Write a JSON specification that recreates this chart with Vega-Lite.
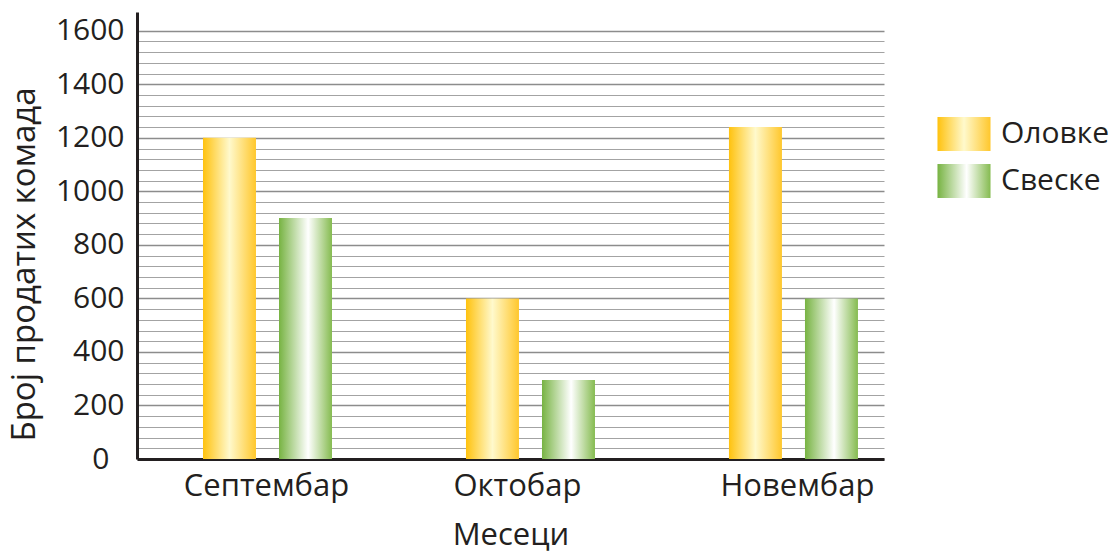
{
  "$schema": "https://vega.github.io/schema/vega-lite/v6.json",
  "autosize": "none",
  "padding": {"left": 137, "top": 12, "right": 231, "bottom": 93},
  "width": 747,
  "height": 447,
  "config": {
    "font": "Open Sans",
    "view": {"stroke": null},
    "axis": {"labelColor": "#231f20", "titleColor": "#231f20", "labelFont": "Open Sans", "titleFont": "Open Sans", "titleFontWeight": "normal"}
  },
  "data": {
    "values": [
      {"month": "Септембар", "series": "Оловке", "value": 1200},
      {"month": "Септембар", "series": "Свеске", "value": 900},
      {"month": "Октобар", "series": "Оловке", "value": 600},
      {"month": "Октобар", "series": "Свеске", "value": 295},
      {"month": "Новембар", "series": "Оловке", "value": 1240},
      {"month": "Новембар", "series": "Свеске", "value": 600}
    ]
  },
  "mark": {"type": "bar", "strokeWidth": 0},
  "encoding": {
    "x": {
      "field": "month",
      "type": "nominal",
      "sort": ["Септембар", "Октобар", "Новембар"],
      "scale": {"paddingInner": 0.5095, "paddingOuter": 0.175, "align": 0.717},
      "axis": {
        "title": "Месеци",
        "labelAngle": 0,
        "labelFontSize": 31,
        "titleFontSize": 31,
        "labelPadding": 12,
        "titlePadding": 19,
        "labelOffset": {"condition": [{"test": "datum.value === 'Октобар'", "value": -13}, {"test": "datum.value === 'Новембар'", "value": 4}], "value": -1},
        "ticks": false,
        "domainColor": "#231f20",
        "domainWidth": 3,
        "grid": false
      }
    },
    "xOffset": {
      "field": "series",
      "type": "nominal",
      "scale": {"paddingInner": 0.303, "paddingOuter": 0}
    },
    "y": {
      "field": "value",
      "type": "quantitative",
      "scale": {"domain": [0, 1670], "nice": false},
      "axis": {
        "title": "Број продатих комада",
        "values": [0,40,80,120,160,200,240,280,320,360,400,440,480,520,560,600,640,680,720,760,800,840,880,920,960,1000,1040,1080,1120,1160,1200,1240,1280,1320,1360,1400,1440,1480,1520,1560,1600],
        "labelExpr": "datum.value % 200 === 0 ? datum.label : ''",
        "format": "d",
        "labelFontSize": 30,
        "titleFontSize": 33,
        "labelPadding": {"condition": {"test": "datum.value === 0", "value": 28}, "value": 13},
        "titlePadding": 14,
        "titleY": 252,
        "ticks": false,
        "domainColor": "#231f20",
        "domainWidth": 3,
        "grid": true,
        "gridColor": {"condition": {"test": "datum.value % 200 === 0", "value": "#8c8c8c"}, "value": "#a3a3a3"},
        "gridWidth": {"condition": {"test": "datum.value % 200 === 0", "value": 1.6}, "value": 1.2},
        "gridOpacity": 1
      }
    },
    "fill": {
      "condition": {
        "test": "datum.series === 'Оловке'",
        "value": {"gradient": "linear", "x1": 0, "y1": 0, "x2": 1, "y2": 0, "stops": [{"offset": 0, "color": "#ffc20e"}, {"offset": 0.5, "color": "#fff9cc"}, {"offset": 1, "color": "#ffc72c"}]}
      },
      "value": {"gradient": "linear", "x1": 0, "y1": 0, "x2": 1, "y2": 0, "stops": [{"offset": 0, "color": "#77b342"}, {"offset": 0.55, "color": "#ffffff"}, {"offset": 1, "color": "#85bb50"}]}
    },
    "stroke": {
      "field": "series",
      "type": "nominal",
      "scale": {"domain": ["Оловке", "Свеске"], "range": ["#ffc20e", "#77b342"]},
      "legend": {
        "title": null,
        "orient": "none",
        "legendX": 810,
        "legendY": 105,
        "symbolType": "M-1.56,-1H1.56V1H-1.56Z",
        "symbolSize": 1156,
        "symbolStrokeWidth": 0,
        "labelFontSize": 30,
        "labelColor": "#231f20",
        "labelFont": "Open Sans",
        "labelOffset": 20,
        "rowPadding": 13,
        "encoding": {
          "symbols": {
            "fill": {
              "condition": {"test": "datum.index === 0", "value": {"gradient": "linear", "x1": 0, "y1": 0, "x2": 1, "y2": 0, "stops": [{"offset": 0, "color": "#ffc20e"}, {"offset": 0.5, "color": "#fff9cc"}, {"offset": 1, "color": "#ffc72c"}]}},
              "value": {"gradient": "linear", "x1": 0, "y1": 0, "x2": 1, "y2": 0, "stops": [{"offset": 0, "color": "#77b342"}, {"offset": 0.55, "color": "#ffffff"}, {"offset": 1, "color": "#85bb50"}]}
            },
            "fillOpacity": {"value": 1},
            "strokeWidth": {"value": 0}
          }
        }
      }
    }
  }
}
